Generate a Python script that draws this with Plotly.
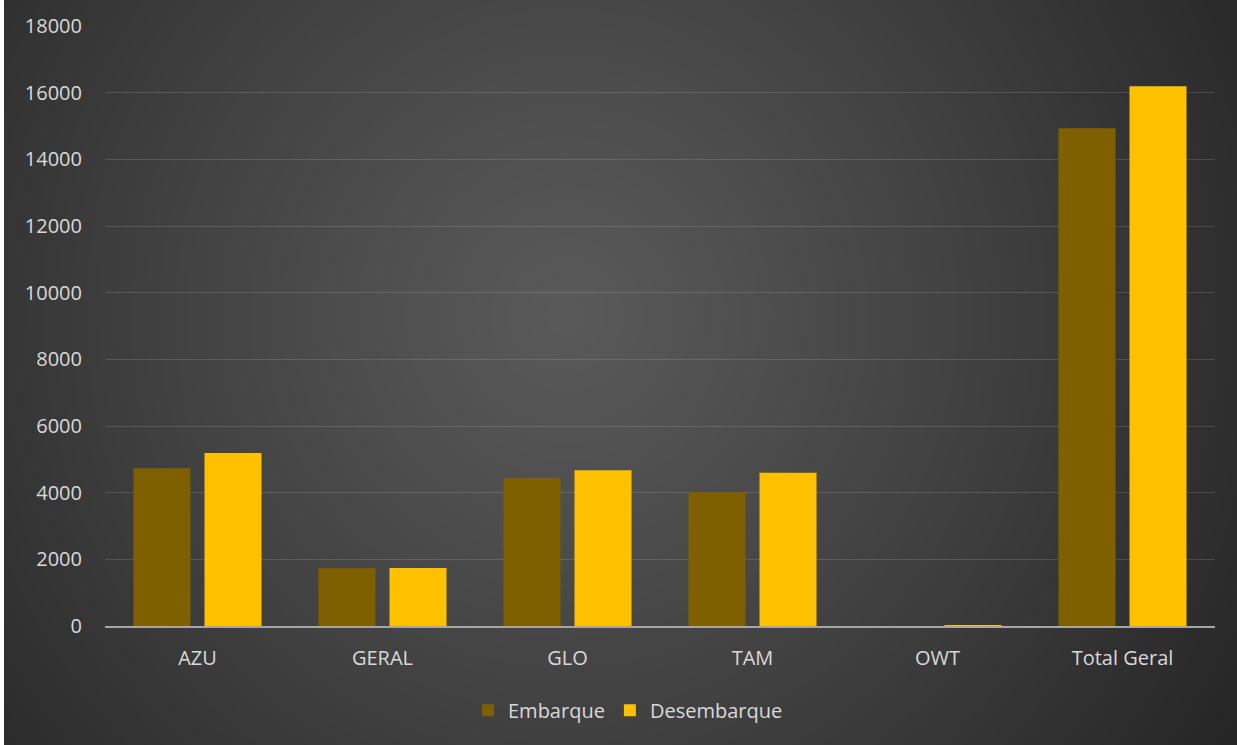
import base64, struct, zlib
import numpy as np
import plotly.graph_objects as go

categories = ["AZU", "GERAL", "GLO", "TAM", "OWT", "Total Geral"]
embarque = [4730, 1730, 4440, 4020, 0, 14930]
desembarque = [5190, 1740, 4670, 4600, 15, 16190]
tick_vals = [0, 2000, 4000, 6000, 8000, 10000, 12000, 14000, 16000, 18000]
tick_text = [str(v) for v in tick_vals]

W, H = 1237, 745
ML, MR, MT, MB = 105, 22, 22, 119
PW, PH = W - ML - MR, H - MT - MB


def gradient_png(w, h):
    yy, xx = np.mgrid[0:h, 0:w].astype(float)
    cx, cy = 0.45 * w, 0.42 * h
    r = np.sqrt(((xx - cx) / (0.75 * w)) ** 2 + ((yy - cy) / (0.75 * w)) ** 2)
    r = np.clip(r / 0.85, 0, 1)
    c = 90 - (90 - 38) * r ** 1.1
    img = np.clip(c, 0, 255).astype(np.uint8)
    raw = b"".join(b"\x00" + bytes(np.repeat(row, 3)) for row in img)

    def chunk(t, d):
        return struct.pack(">I", len(d)) + t + d + struct.pack(">I", zlib.crc32(t + d) & 0xffffffff)

    png = b"\x89PNG\r\n\x1a\n" + chunk(b"IHDR", struct.pack(">IIBBBBB", w, h, 8, 2, 0, 0, 0)) \
        + chunk(b"IDAT", zlib.compress(raw, 9)) + chunk(b"IEND", b"")
    return "data:image/png;base64," + base64.b64encode(png).decode()


bg = gradient_png(411, 248)

font = dict(family="Open Sans, Noto Sans, sans-serif", size=20, color="#d9d9d9")

fig = go.Figure()
fig.add_trace(go.Bar(name="Embarque", x=categories, y=embarque,
                     marker=dict(color="#7f6000", line=dict(width=0))))
fig.add_trace(go.Bar(name="Desembarque", x=categories, y=desembarque,
                     marker=dict(color="#ffc000", line=dict(width=0))))

# background image extends slightly beyond the paper (clipped) except at the 4px left strip
img_left, img_top, img_right, img_bottom = 4, -12, W + 12, H + 12
fig.update_layout(
    width=W, height=H,
    paper_bgcolor="white",
    plot_bgcolor="rgba(0,0,0,0)",
    margin=dict(l=ML, r=MR, t=MT, b=MB, pad=0),
    barmode="group", bargap=0.232, bargroupgap=0.197,
    font=font,
    showlegend=True,
    legend=dict(orientation="h", x=(628 - ML) / PW, xanchor="center", y=-0.108, yanchor="top",
                font=dict(size=20, color="#d9d9d9"), bgcolor="rgba(0,0,0,0)",
                itemwidth=30, traceorder="normal"),
    images=[dict(source=bg, xref="paper", yref="paper",
                 x=(img_left - ML) / PW, y=1 + (MT - img_top) / PH,
                 sizex=(img_right - img_left) / PW, sizey=(img_bottom - img_top) / PH,
                 xanchor="left", yanchor="top", sizing="stretch", layer="below")],
)
fig.update_xaxes(showgrid=False, showline=True, linecolor="#a6a6a6", linewidth=2,
                 ticks="", tickfont=dict(size=20, color="#d9d9d9"), ticklabelstandoff=13)
fig.update_yaxes(range=[0, 18000], tickvals=tick_vals, ticktext=tick_text, showgrid=True,
                 gridcolor="rgba(255,255,255,0.13)", gridwidth=1, zeroline=False,
                 showline=False, ticks="", tickfont=dict(size=20, color="#d9d9d9"),
                 ticklabelstandoff=22)

fig.write_html("out.html", config={"displayModeBar": False},
               post_script="document.body.style.margin='0';document.body.style.padding='0';"
                           "document.body.style.overflow='hidden';"
                           "document.documentElement.style.overflow='hidden';")
